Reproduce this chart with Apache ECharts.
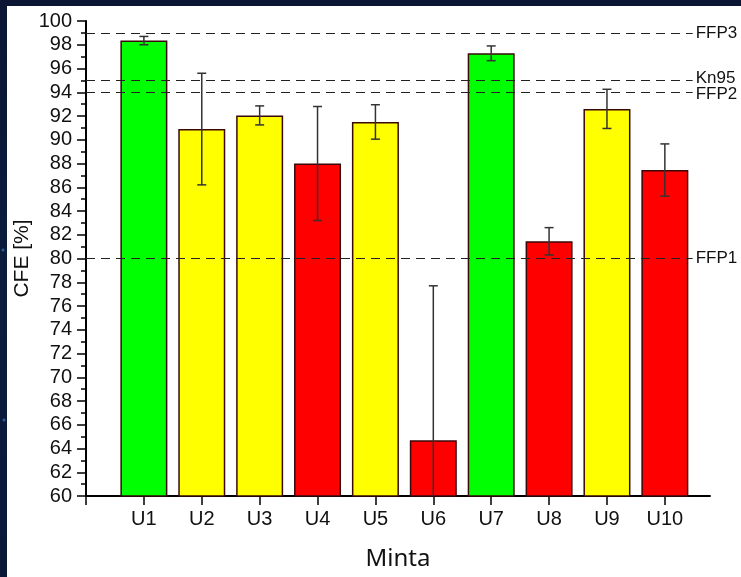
<!DOCTYPE html>
<html>
<head>
<meta charset="utf-8">
<script src="https://cdn.jsdelivr.net/npm/echarts@6/dist/echarts.min.js"></script>
<style>
  html, body { margin: 0; padding: 0; }
  body {
    width: 741px; height: 577px; overflow: hidden; position: relative;
    background: radial-gradient(circle at 3px 250px, #2a5a8a 1px, transparent 2px),
                radial-gradient(circle at 4px 420px, #2a5a8a 1px, transparent 2px),
                linear-gradient(180deg, #0a1634 0%, #0b1c3e 50%, #0a1838 100%);
  }
  #main { position: absolute; left: 7px; top: 6px; width: 734px; height: 571px; background: #fff; }
</style>
</head>
<body>
<div id="main"></div>
<script>
// samples and measured CFE values
var categories = ['U1', 'U2', 'U3', 'U4', 'U5', 'U6', 'U7', 'U8', 'U9', 'U10']
var cfe = [98.35, 90.9, 92.05, 88.0, 91.5, 64.7, 97.28, 81.45, 92.6, 87.45]
var cfeErr = [0.35, 4.7, 0.8, 4.8, 1.45, 13.0, 0.62, 1.15, 1.65, 2.2]
// reference limits
var refNames = ['FFP3', 'Kn95', 'FFP2', 'FFP1']
var refValues = [99, 95, 94, 80]
var yTicks = [60, 100, 2]

var yMin = yTicks[0]
var yMax = yTicks[1]

function barColor (v) {
  if (v >= 95) return '#00ff00'
  if (v >= 90) return '#ffff00'
  return '#ff0000'
}

var barData = cfe.map(function (v, i) {
  return { value: [i + 1, v], itemStyle: { color: barColor(v) } }
})
var errData = cfe.map(function (v, i) {
  return [i + 1, v - cfeErr[i], v + cfeErr[i]]
})
var refLines = refValues.map(function (v, i) {
  return [{ coord: [0, v], name: refNames[i] }, { coord: [10.48, v] }]
})
// Kn95 and FFP2 labels are nudged apart so they don't overlap
var labelStyleKey = { Kn95: 'up', FFP2: 'dn' }

var tickVals = [0].concat(categories.map(function (c, i) { return i + 1 }))

var refFont = { fontFamily: 'Liberation Sans', fontSize: 17, color: '#111' }

var chart = echarts.init(document.getElementById('main'))
var option = {
  animation: false,
  backgroundColor: '#ffffff',
  grid: { left: 79, right: 31, top: 15, bottom: 81, outerBoundsMode: 'none', containLabel: false },
  xAxis: {
    type: 'value',
    min: 0,
    max: 10.78,
    interval: 1,
    name: 'Minta',
    nameLocation: 'middle',
    nameGap: 51,
    nameMoveOverlap: false,
    nameTextStyle: { fontFamily: 'Noto Sans', fontSize: 24, color: '#111' },
    axisLine: { show: true, lineStyle: { color: '#000', width: 2 } },
    axisTick: { show: true, length: 9, customValues: tickVals, lineStyle: { color: '#000', width: 1.5 } },
    axisLabel: {
      customValues: tickVals.slice(1),
      margin: 13,
      fontFamily: 'Liberation Sans',
      fontSize: 20,
      color: '#111',
      formatter: function (v) { return categories[Math.round(v) - 1] || '' }
    },
    splitLine: { show: false }
  },
  yAxis: {
    type: 'value',
    min: yMin,
    max: yMax,
    interval: yTicks[2],
    name: 'CFE [%]',
    nameLocation: 'middle',
    nameGap: 53,
    nameMoveOverlap: false,
    nameTextStyle: { fontFamily: 'Liberation Sans', fontSize: 21, color: '#111' },
    axisLine: { show: true, lineStyle: { color: '#000', width: 2 } },
    axisTick: { show: true, length: 9, lineStyle: { color: '#000', width: 1.5 } },
    minorTick: { show: true, splitNumber: 2, length: 5, lineStyle: { color: '#000', width: 1.5 } },
    axisLabel: { margin: 14, fontFamily: 'Liberation Sans', fontSize: 20, color: '#111' },
    splitLine: { show: false }
  },
  series: [
    {
      name: 'CFE',
      type: 'bar',
      barWidth: 47,
      data: barData,
      itemStyle: { borderColor: '#3a0808', borderWidth: 1.5 },
      z: 2
    },
    {
      name: 'err',
      type: 'custom',
      z: 4,
      clip: true,
      data: errData,
      renderItem: function (params, api) {
        var x = api.value(0)
        var lo = api.value(1)
        var hi = api.value(2)
        var pHi = api.coord([x, hi])
        var pLo = api.coord([x, Math.max(lo, yMin)])
        var cap = 4.5
        var style = { stroke: '#333', lineWidth: 1.5 }
        var children = [
          { type: 'line', shape: { x1: pHi[0], y1: pHi[1], x2: pLo[0], y2: pLo[1] }, style: style },
          { type: 'line', shape: { x1: pHi[0] - cap, y1: pHi[1], x2: pHi[0] + cap, y2: pHi[1] }, style: style }
        ]
        if (lo >= yMin) {
          children.push({ type: 'line', shape: { x1: pLo[0] - cap, y1: pLo[1], x2: pLo[0] + cap, y2: pLo[1] }, style: style })
        }
        return { type: 'group', children: children }
      }
    },
    {
      name: 'ref',
      type: 'line',
      data: [],
      z: 5,
      markLine: {
        silent: true,
        symbol: ['none', 'none'],
        lineStyle: { color: '#222', width: 1.2, type: [9, 6] },
        label: {
          show: true,
          position: 'end',
          distance: 3,
          formatter: function (p) {
            var k = labelStyleKey[p.name] || 'n'
            return '{' + k + '|' + p.name + '}'
          },
          fontFamily: 'Liberation Sans',
          fontSize: 17,
          color: '#111',
          rich: {
            n: refFont,
            up: Object.assign({ padding: [0, 0, 5, 0] }, refFont),
            dn: Object.assign({ padding: [5, 0, 0, 0] }, refFont)
          }
        },
        data: refLines
      }
    }
  ]
}
chart.setOption(option)
</script>
</body>
</html>
